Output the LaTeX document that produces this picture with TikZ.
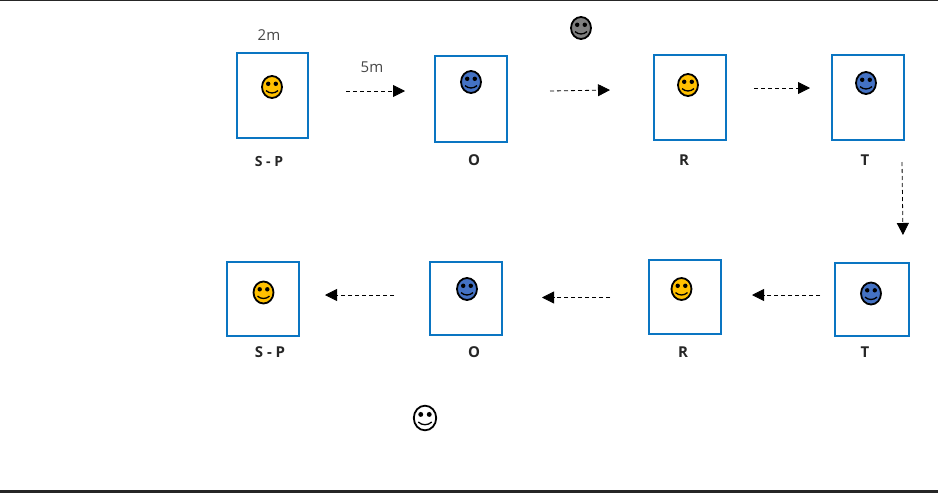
\documentclass[tikz,border=0pt]{standalone}
\usepackage{fontspec}
\setmainfont{Open Sans}
\usetikzlibrary{arrows.meta}

\definecolor{boxblue}{HTML}{0A75C2}
\definecolor{facegold}{HTML}{FFC000}
\definecolor{faceblue}{HTML}{4472C4}
\definecolor{facegray}{HTML}{7F7F7F}
\definecolor{inkgray}{HTML}{262626}

\tikzset{
  seat/.style={draw=boxblue,line width=2pt},
  tag/.style={text=inkgray,font=\fontsize{15}{15}\selectfont\bfseries},
  dist/.style={text=inkgray!85,font=\fontsize{15}{15}\selectfont},
  flow/.style={line width=0.8pt,dash pattern=on 4pt off 3pt,-{Triangle[length=12pt,width=12pt]}},
  smiley/.pic={
    \draw[line width=1.8pt,fill=#1] (0,0) ellipse (10pt and 11pt);
    \fill (-3.8,-3.2) circle (2.2pt);
    \fill (3.8,-3.2) circle (2.2pt);
    \draw[line width=1.3pt] (-6,3.6) .. controls (-2.5,6.8) and (2.5,6.8) .. (6,3.6);
  }
}

\begin{document}
\begin{tikzpicture}[x=1pt,y=-1pt]
  \useasboundingbox (0,0) rectangle (938,493);
  \fill[inkgray] (0,0) rectangle (938,1);
  \fill[inkgray] (0,490) rectangle (938,493);

  % first row
  \draw[seat] (237,53) rectangle (308,138);
  \draw[seat] (435,56) rectangle (507,142);
  \draw[seat] (654,55) rectangle (726,140);
  \draw[seat] (832,55) rectangle (904,140);
  \pic at (272,87) {smiley=facegold};
  \pic at (471,82) {smiley=faceblue};
  \pic at (688,85) {smiley=facegold};
  \pic at (866,83) {smiley=faceblue};
  \pic at (581,28) {smiley=facegray};
  \node[dist] (wide) at (269,35) {2m};
  \node[dist] (gap) at (372,67) {5m};
  \node[tag,font=\fontsize{14}{14}\selectfont\bfseries] (sp1) at (269,161) {S - P};
  \node[tag] (o1) at (474,160) {O};
  \node[tag] (r1) at (684,160) {R};
  \node[tag] (t1) at (865,160) {T};

  % second row
  \draw[seat] (227,262) rectangle (299,336);
  \draw[seat] (430,262) rectangle (502,335);
  \draw[seat] (649,260) rectangle (721,334);
  \draw[seat] (835,263) rectangle (909,336);
  \pic at (263.5,292.5) {smiley=facegold};
  \pic at (467,289) {smiley=faceblue};
  \pic at (681.5,289) {smiley=facegold};
  \pic at (871,293.5) {smiley=faceblue};
  \pic[scale=1.12] at (425,418) {smiley=white};
  \node[tag] (sp2) at (270,352) {S - P};
  \node[tag] (o2) at (474,352) {O};
  \node[tag] (r2) at (683,352) {R};
  \node[tag] (t2) at (865,352) {T};

  % arrows
  \coordinate (a1) at (346,91);
  \coordinate (a2) at (405,91);
  \coordinate (b1) at (550,91);
  \coordinate (b2) at (610,90);
  \coordinate (c1) at (754,88);
  \coordinate (c2) at (810,88);
  \coordinate (d1) at (902,162);
  \coordinate (d2) at (903,235);
  \coordinate (e1) at (820,295);
  \coordinate (e2) at (752,295);
  \coordinate (f1) at (610,297.5);
  \coordinate (f2) at (542,297.5);
  \coordinate (g1) at (394,295);
  \coordinate (g2) at (325,295);
  \draw[flow] (a1) -- (a2);
  \draw[flow] (b1) -- (b2);
  \draw[flow] (c1) -- (c2);
  \draw[flow] (d1) -- (d2);
  \draw[flow] (e1) -- (e2);
  \draw[flow] (f1) -- (f2);
  \draw[flow] (g1) -- (g2);
\end{tikzpicture}
\end{document}
